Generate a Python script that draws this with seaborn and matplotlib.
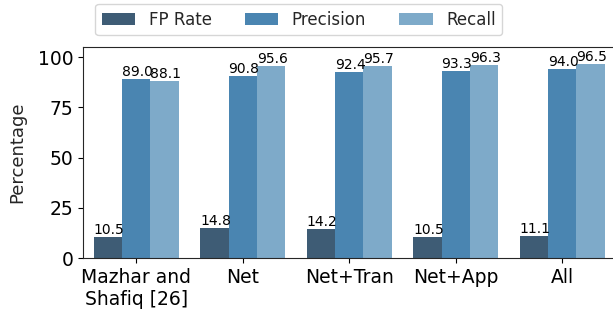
import matplotlib
matplotlib.use("Agg")
import matplotlib.pyplot as plt
import pandas as pd
import seaborn as sns

# 数据
methods = ["Mazhar and\nShafiq [26]", "Net", "Net+Tran", "Net+App", "All"]
metrics = ["FP Rate", "Precision", "Recall"]
fp_rate = [10.5, 14.8, 14.2, 10.5, 11.1]
precision = [89.0, 90.8, 92.4, 93.3, 94.0]
recall = [88.1, 95.6, 95.7, 96.3, 96.5]
colors = ["#3e5c75", "#4a85b1", "#7eaac9"]

sns.set_style("ticks")
plt.rcParams['font.family'] = ['DejaVu Sans']

df = pd.DataFrame({
    "Method": methods * 3,
    "Metric": [m for m in metrics for _ in methods],
    "Percentage": fp_rate + precision + recall,
})

fig = plt.figure(figsize=(6.13, 3.16), dpi=100)
ax = fig.add_axes([0.1354, 0.1835, 0.8687, 0.6677])
sns.barplot(data=df, x="Method", y="Percentage", hue="Metric",
            palette=colors, saturation=1, ax=ax, width=0.8, linewidth=0)

# 柱顶数值
for container in ax.containers:
    for bar in container:
        h = bar.get_height()
        ax.text(bar.get_x(), h, f"{h:.1f}", ha="left", va="bottom",
                fontsize=10, color="black")

ax.set_ylim(0, 105)
ax.set_yticks([0, 25, 50, 75, 100])
ax.set_xlabel("")
ax.set_ylabel("Percentage", fontsize=13, labelpad=8)
ax.tick_params(axis="both", labelsize=13.5, colors="black")
ax.spines["right"].set_visible(False)

ax.legend(loc="lower center", bbox_to_anchor=(0.405, 1.0), ncol=3, fontsize=12,
          handlelength=2, columnspacing=2, borderaxespad=0.7)

fig.savefig("out.png", dpi=100)
